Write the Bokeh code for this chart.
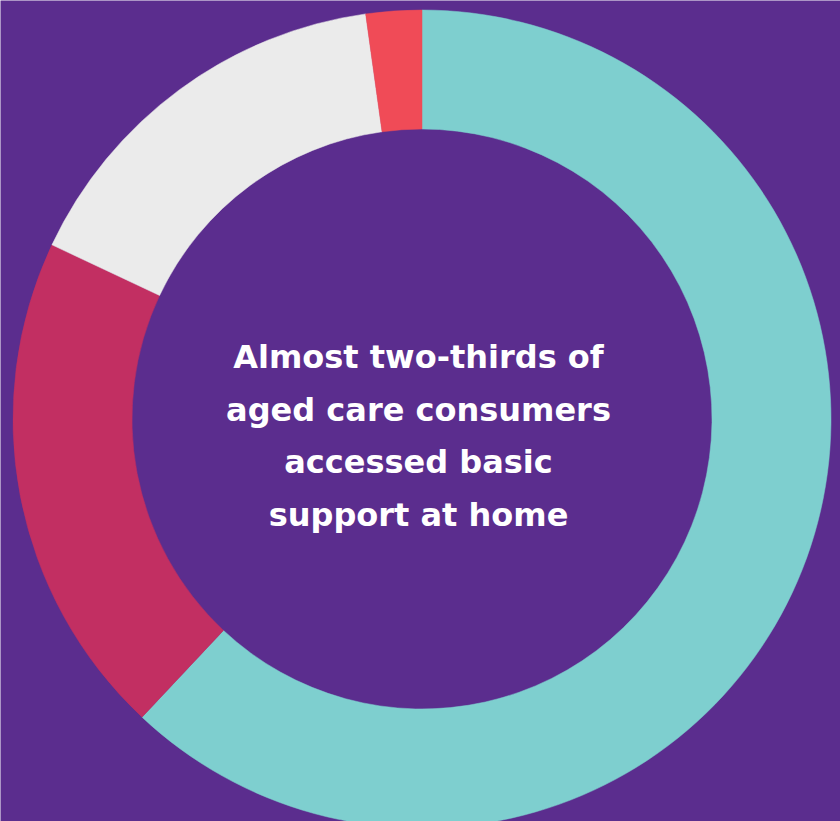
import numpy as np
from bokeh.plotting import figure
from bokeh.models import Range1d, ColumnDataSource
from bokeh.core.properties import value
from bokeh.embed import file_html
from bokeh.resources import INLINE

# --- data ---
segments = ["Basic support at home", "Segment 2", "Segment 3", "Segment 4"]
shares = [62.0, 20.0, 15.8, 2.2]
colors = ["#7ECFCF", "#C22F62", "#EBEBEB", "#F04B57"]
text_lines = [
    "Almost two-thirds of",
    "aged care consumers",
    "accessed basic",
    "support at home",
]

W, H = 840, 821
BG = "#5B2D8E"
cx, cy_px = 421.5, 418.5
r_out, r_in = 409, 290

total = sum(shares)
cum = np.cumsum([0] + shares) / total
start = [np.pi / 2 - 2 * np.pi * c for c in cum[:-1]]
end = [np.pi / 2 - 2 * np.pi * c for c in cum[1:]]

src = ColumnDataSource(dict(seg=segments, share=shares, color=colors,
                            start=start, end=end))

p = figure(width=W, height=H, output_backend="svg", toolbar_location=None,
           x_range=Range1d(0, W), y_range=Range1d(0, H),
           x_axis_type=None, y_axis_type=None, min_border=0)
p.background_fill_color = BG
p.border_fill_color = BG
p.outline_line_color = None
p.grid.visible = False

p.annular_wedge(x=cx, y=H - cy_px, inner_radius=r_in, outer_radius=r_out,
                start_angle="start", end_angle="end", direction="clock",
                fill_color="color", line_color="color", line_width=0.5,
                source=src)

baselines_px = [356, 409, 461, 514]
tsrc = ColumnDataSource(dict(x=[cx - 3.5] * len(text_lines),
                             y=[H - b for b in baselines_px],
                             t=text_lines))
p.text(x="x", y="y", text="t", source=tsrc, text_align="center",
       text_baseline="alphabetic", text_color="white",
       text_font=value("DejaVu Sans"), text_font_style="bold",
       text_font_size="32px")

open("out.html", "w").write(file_html(p, INLINE))
